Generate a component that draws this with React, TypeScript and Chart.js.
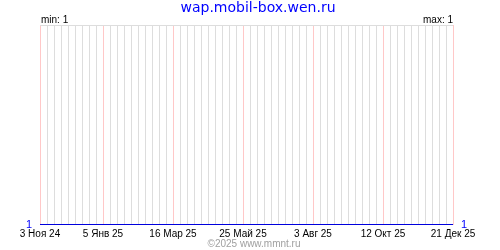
import React, { useEffect, useRef } from "react";
import { Chart, registerables } from "chart.js";

Chart.register(...registerables);

const chartTitle = "wap.mobil-box.wen.ru";
const minText = "min: 1";
const maxText = "max: 1";
const footerText = "©2025 www.mmnt.ru";

// weekly values, 3 Ноя 24 .. 21 Дек 25 (60 weeks)
const weeklyValues = [
  1, 1, 1, 1, 1, 1, 1, 1, 1, 1,
  1, 1, 1, 1, 1, 1, 1, 1, 1, 1,
  1, 1, 1, 1, 1, 1, 1, 1, 1, 1,
  1, 1, 1, 1, 1, 1, 1, 1, 1, 1,
  1, 1, 1, 1, 1, 1, 1, 1, 1, 1,
  1, 1, 1, 1, 1, 1, 1, 1, 1, 1,
];

const tickWeeks = [0, 9, 19, 29, 39, 49, 59];
const tickLabels = ["3 Ноя 24", "5 Янв 25", "16 Мар 25", "25 Май 25", "3 Авг 25", "12 Окт 25", "21 Дек 25"];

const yMin = 1;
const yMax = 2;

const GRID_GRAY = "#dddddd";
const GRID_PINK = "#ffc8c8";
const BLUE = "#0000ff";
const LINE_BLUE = "#0000dd";
const SMALL_FONT = "Liberation Sans";

const textPlugin = {
  id: "textPlugin",
  afterDraw(chart: any) {
    const ctx = chart.ctx;
    const area = chart.chartArea;
    ctx.save();
    ctx.textBaseline = "alphabetic";
    ctx.fillStyle = BLUE;
    ctx.font = "14px 'DejaVu Sans'";
    ctx.textAlign = "center";
    ctx.fillText(chartTitle, 258, 12);

    ctx.fillStyle = "#000000";
    ctx.font = `10px '${SMALL_FONT}'`;
    ctx.textAlign = "left";
    ctx.fillText(minText, area.left + 1, 23);
    ctx.textAlign = "right";
    ctx.fillText(maxText, area.right, 23);

    ctx.fillStyle = "#a0a0a0";
    ctx.textAlign = "center";
    ctx.fillText(footerText, 254, 247);
    ctx.restore();
  },
};

export default function App() {
  const canvasRef = useRef<HTMLCanvasElement>(null);

  useEffect(() => {
    document.body.style.margin = "0";
    const canvas = canvasRef.current;
    if (!canvas) return;
    const data = weeklyValues.map((v, i) => ({ x: i, y: v }));
    const chart = new Chart(canvas, {
      type: "line",
      data: {
        datasets: [
          {
            data,
            borderColor: LINE_BLUE,
            borderWidth: 2,
            pointRadius: 0,
            tension: 0,
            fill: false,
          },
        ],
      },
      options: {
        responsive: false,
        animation: false,
        layout: { padding: { top: 25, bottom: 0, left: 0, right: 0 } },
        plugins: {
          legend: { display: false },
          tooltip: { enabled: false },
          title: { display: false },
        },
        scales: {
          x: {
            type: "linear",
            min: 0,
            max: weeklyValues.length - 1,
            afterFit(scale: any) {
              scale.height = 25;
            },
            border: { display: false },
            grid: {
              drawTicks: false,
              color: (c: any) => (c.tick && tickWeeks.includes(c.tick.value) ? GRID_PINK : GRID_GRAY),
              lineWidth: 1,
            },
            ticks: {
              stepSize: 1,
              autoSkip: false,
              maxRotation: 0,
              minRotation: 0,
              padding: 3,
              color: "#000000",
              font: { family: SMALL_FONT, size: 10 },
              callback: (v: any) => {
                const idx = tickWeeks.indexOf(Number(v));
                return idx >= 0 ? tickLabels[idx] : "";
              },
            },
          },
          y: {
            position: "left",
            min: yMin,
            max: yMax,
            afterFit(scale: any) {
              scale.width = 40;
            },
            border: { display: false },
            grid: {
              drawTicks: false,
              color: (c: any) => (c.tick && c.tick.value === yMax ? GRID_GRAY : "rgba(0,0,0,0)"),
            },
            ticks: {
              stepSize: 1,
              padding: 8,
              color: BLUE,
              font: { family: SMALL_FONT, size: 11 },
              callback: (v: any) => (Number(v) === yMin ? String(v) : ""),
            },
          },
          y2: {
            position: "right",
            min: yMin,
            max: yMax,
            afterFit(scale: any) {
              scale.width = 47;
            },
            border: { display: false },
            grid: { display: false, drawTicks: false },
            ticks: {
              stepSize: 1,
              padding: 8,
              color: BLUE,
              font: { family: SMALL_FONT, size: 11 },
              callback: (v: any) => (Number(v) === yMin ? String(v) : ""),
            },
          },
        },
      },
      plugins: [textPlugin],
    } as any);
    return () => chart.destroy();
  }, []);

  return (
    <div style={{ width: 500, height: 250, background: "#ffffff" }}>
      <canvas ref={canvasRef} width={500} height={250} />
    </div>
  );
}
